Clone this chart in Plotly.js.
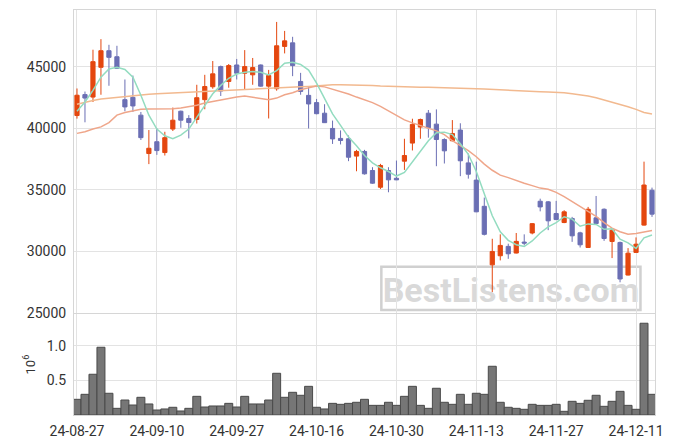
<!DOCTYPE html>
<html>
<head>
<meta charset="utf-8">
<script src="https://cdn.plot.ly/plotly-3.0.1.min.js"></script>
<style>html,body{margin:0;padding:0;background:#fff;}#chart{width:675px;height:444px;}</style>
</head>
<body>
<div id="chart"></div>
<script>
const dates = ["24-08-27","24-08-28","24-08-29","24-08-30",
"24-09-02","24-09-03","24-09-04","24-09-05","24-09-06","24-09-09","24-09-10",
"24-09-11","24-09-12","24-09-13","24-09-19","24-09-20","24-09-23","24-09-24","24-09-25","24-09-26","24-09-27",
"24-09-30","24-10-02","24-10-04","24-10-07","24-10-08","24-10-10","24-10-11","24-10-14","24-10-15","24-10-16",
"24-10-17","24-10-18","24-10-21","24-10-22","24-10-23","24-10-24","24-10-25","24-10-28","24-10-29","24-10-30",
"24-10-31","24-11-01","24-11-04","24-11-05","24-11-06","24-11-07","24-11-08","24-11-11","24-11-12","24-11-13",
"24-11-14","24-11-15","24-11-18","24-11-19","24-11-20","24-11-21","24-11-22","24-11-25","24-11-26","24-11-27",
"24-11-28","24-11-29","24-12-02","24-12-03","24-12-04","24-12-05","24-12-06","24-12-09","24-12-10","24-12-11",
"24-12-12","24-12-13"];

const tickLabels = ["24-08-27","24-09-10","24-09-27","24-10-16","24-10-30","24-11-13","24-11-27","24-12-11"];
const priceTicks = [25000,30000,35000,40000,45000];
const priceTickText = ["25000","30000","35000","40000","45000"];

const openP = [41050,42750,42550,44970,46320,45830,42340,42530,41080,37960,38920,38040,39950,41400,40810,
40730,42340,43390,45030,43820,45160,44490,44360,45160,43440,43230,46670,46960,43820,42690,
42100,41240,40000,39190,39160,37750,38130,36580,35220,36580,35950,37340,38810,40110,41240,
40350,39100,39000,39870,37200,35800,33670,28910,29650,30410,29870,30760,31500,34080,34030,
33080,32350,32680,31510,30320,32730,33430,30810,30730,28080,29920,32140,34970];

const highP = [43250,43000,46400,47260,46800,46720,43980,44300,41340,39870,40000,39730,41700,41450,41080,
43550,44360,45480,45110,45240,45650,46370,45730,45200,44760,48660,47930,47450,44520,43360,
42400,41970,40640,39840,39430,38260,38260,36850,37120,36850,37390,39160,40790,40800,41500,
41550,39200,40680,40420,37960,37300,34380,31030,31390,30630,31500,31390,32300,34290,34100,
34110,33350,32810,31600,33620,34510,33500,31890,30800,30270,31140,37300,35190];

const lowP = [40800,40500,42150,42740,43470,44850,41400,41340,39060,37100,37850,37800,39790,40050,39190,
40400,41560,43230,42640,43310,43980,43150,43550,43400,40810,43070,46100,44250,42740,40000,
41150,40450,38740,38700,37340,36520,36250,35500,35080,34810,35800,36630,38210,39160,39250,
36930,37150,38950,36120,35920,33200,31300,26690,29270,29400,29840,30490,31390,33260,31730,
32550,32300,30780,30320,30300,32250,30860,29460,27490,28050,29900,32100,32810];

const closeP = [42700,42470,45430,46320,45780,44890,41750,41830,39250,38390,38200,39250,40670,40670,40480,
42500,43410,44440,43040,45110,44490,45030,44950,43440,44300,46720,47120,45110,43010,41990,
41200,40470,39150,39020,37660,38130,36310,35550,36990,35820,35820,37800,40330,40730,40060,
39100,38180,39590,37370,36280,33220,31390,30000,30490,29810,30820,30680,32260,33620,32490,
32590,33220,31270,30540,33430,32270,31050,31730,27760,29860,30590,35400,33030];

const volumeM = [0.226,0.298,0.587,0.976,0.313,0.096,0.216,0.144,0.255,0.159,0.072,0.087,0.111,0.058,0.096,
0.269,0.115,0.130,0.130,0.168,0.115,0.269,0.159,0.159,0.216,0.601,0.255,0.327,0.284,0.413,
0.111,0.087,0.168,0.154,0.168,0.183,0.226,0.139,0.139,0.183,0.139,0.269,0.413,0.139,0.096,
0.385,0.183,0.154,0.298,0.154,0.313,0.298,0.702,0.183,0.111,0.096,0.082,0.154,0.139,0.139,
0.154,0.053,0.197,0.168,0.212,0.284,0.125,0.197,0.341,0.139,0.082,1.322,0.298];

const maShort = [41400,42150,43090,44170,44840,44970,44790,44170,42700,41080,39950,39400,39170,39460,39950,
40900,41880,42820,43500,44080,44420,44560,44620,44570,44350,44700,45310,45380,45200,44750,
43680,42380,41180,40250,39300,38600,37800,37200,36800,36500,36130,36420,37300,38150,39000,
39650,39700,39500,38750,37900,36500,34700,32900,31600,30900,30550,30400,30850,31500,32000,
32340,32820,32630,32050,32240,32200,31800,31850,31000,30700,30250,31100,31330];

const maMid = [39600,39730,39950,40130,40480,41080,41290,41450,41560,41590,41590,41610,41610,41670,41750,
41880,42070,42200,42340,42420,42550,42630,42550,42470,42340,42470,42740,42900,43150,43300,
43450,43380,43200,43000,42800,42550,42350,42100,41800,41450,41100,40700,40450,40250,40050,
39800,39500,39000,38600,38200,37700,37100,36600,36200,36000,35750,35550,35350,35150,35050,
34800,34450,34050,33700,33250,32850,32350,31900,31600,31400,31450,31600,31700];

const maLong = [41960,42150,42280,42400,42470,42550,42630,42690,42740,42790,42820,42850,42870,42900,42920,
42940,42970,43000,43020,43060,43100,43140,43170,43200,43240,43270,43300,43340,43380,43420,
43480,43520,43550,43560,43550,43530,43510,43490,43450,43420,43400,43380,43360,43350,43340,
43330,43320,43300,43280,43260,43230,43200,43160,43120,43080,43050,43020,43000,42980,42960,
42940,42900,42830,42750,42630,42500,42330,42150,41950,41770,41550,41300,41180];

const UP = '#e4470f', DOWN = '#6b6fb4';
const GRID = '#e3e3e3', LINE = '#d6d6d6', TXT = '#333333';
const FONT = 'Roboto, sans-serif';

const traces = [
  {type:'scatter', mode:'lines', x:dates, y:maLong, xaxis:'x', yaxis:'y',
   line:{color:'#f2b98f', width:1.5}, hoverinfo:'skip', showlegend:false},
  {type:'scatter', mode:'lines', x:dates, y:maMid, xaxis:'x', yaxis:'y',
   line:{color:'#efa68a', width:1.5}, hoverinfo:'skip', showlegend:false},
  {type:'scatter', mode:'lines', x:dates, y:maShort, xaxis:'x', yaxis:'y',
   line:{color:'#93dcc0', width:1.5}, hoverinfo:'skip', showlegend:false},
  {type:'candlestick', x:dates, open:openP, high:highP, low:lowP, close:closeP,
   xaxis:'x', yaxis:'y', showlegend:false, whiskerwidth:0,
   increasing:{line:{color:UP, width:1}, fillcolor:UP},
   decreasing:{line:{color:DOWN, width:1}, fillcolor:DOWN}},
  {type:'bar', x:dates, y:volumeM, xaxis:'x2', yaxis:'y2', showlegend:false,
   marker:{color:'#767676', line:{color:'#4a4a4a', width:1}}}
];

const layout = {
  width:675, height:444,
  margin:{l:74, r:20, t:10, b:29},
  paper_bgcolor:'#ffffff', plot_bgcolor:'#ffffff',
  font:{family:FONT, size:14, color:TXT},
  showlegend:false,
  bargap:0, boxgap:0.25,
  xaxis:{type:'category', domain:[0,1], anchor:'y', range:[-0.375, 72.375],
    rangeslider:{visible:false}, tickvals:tickLabels, showticklabels:false,
    showgrid:true, gridcolor:GRID, showline:true, mirror:true, linecolor:LINE, ticks:'', zeroline:false},
  yaxis:{domain:[0.252,1], anchor:'x', range:[25000, 49630], tickvals:priceTicks, ticktext:priceTickText,
    showgrid:true, gridcolor:GRID, showline:true, mirror:true, linecolor:LINE,
    ticks:'outside', ticklen:4, tickcolor:'rgba(0,0,0,0)', zeroline:false, tickfont:{size:14, color:TXT}},
  xaxis2:{type:'category', domain:[0,1], anchor:'y2', matches:'x', range:[-0.375, 72.375],
    rangeslider:{visible:false}, tickvals:tickLabels, ticktext:tickLabels,
    showgrid:true, gridcolor:GRID, showline:true, mirror:true, linecolor:LINE,
    ticks:'outside', ticklen:3, tickcolor:'rgba(0,0,0,0)', tickfont:{size:14, color:TXT}, zeroline:false},
  yaxis2:{domain:[0,0.249], anchor:'x2', range:[0, 1.453], tickvals:[0.5,1.0], ticktext:['0.5','1.0'],
    showgrid:true, gridcolor:GRID, showline:true, mirror:true, linecolor:LINE,
    ticks:'outside', ticklen:4, tickcolor:'rgba(0,0,0,0)', zeroline:false, tickfont:{size:14, color:TXT},
    title:{text:'10<sup>6</sup>', font:{size:13, color:TXT}, standoff:8}},
  shapes:[{type:'rect', xref:'paper', yref:'paper', x0:0.529, x1:0.975, y0:0.259, y1:0.366,
    layer:'below', line:{color:'#d0d0d0', width:2.5}, fillcolor:'rgba(255,255,255,0)',
    label:{text:'BestListens.com', font:{family:'Roboto, sans-serif', size:34, color:'#d9d9d9', weight:'bold'},
      textposition:'middle center'}}]
};

Plotly.newPlot('chart', traces, layout, {staticPlot:true, displayModeBar:false});
</script>
</body>
</html>
